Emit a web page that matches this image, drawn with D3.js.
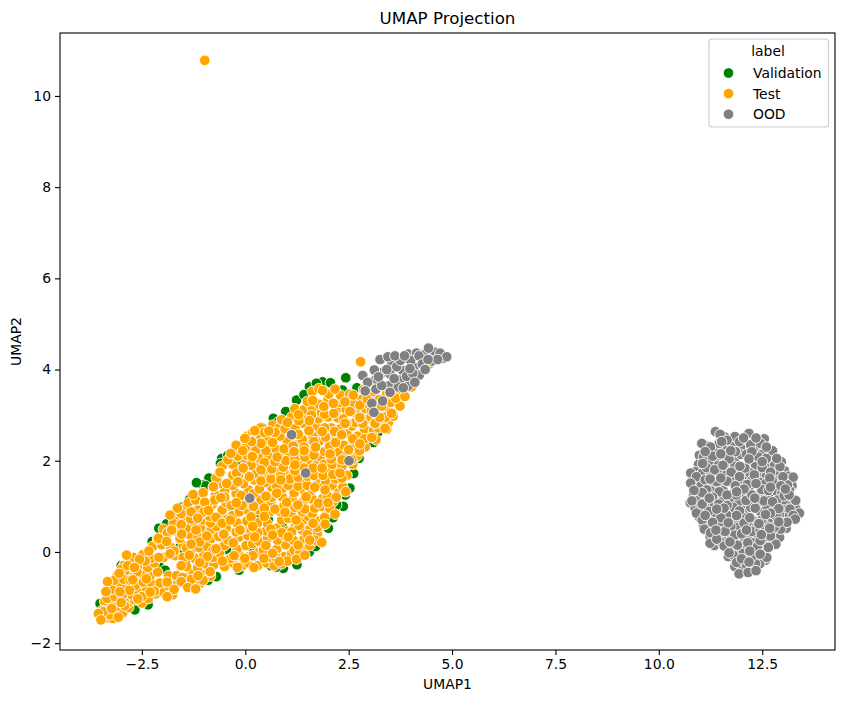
<!DOCTYPE html>
<html>
<head>
<meta charset="utf-8">
<script src="https://cdnjs.cloudflare.com/ajax/libs/d3/7.8.5/d3.min.js"></script>
<style>
  body { margin: 0; background: #fff; }
  text { font-family: 'DejaVu Sans', sans-serif; fill: #000; }
</style>
</head>
<body>
<svg id="plot"></svg>
<script>
// values, [UMAP1, UMAP2]
const validation = [
  [2.43,3.82],[1.87,3.73],[2.06,3.71],[2.35,3.55],[1.24,3.33],[0.98,3.08],[0.68,2.93],[0.8,2.85],
  [-0.57,2.05],[-0.6,1.94],[-0.06,1.99],[-0.17,1.97],[-0.88,1.62],[-1.02,1.47],[2.37,1.0],[2.21,1.03],
  [2.01,0.52],[2.53,1.4],[3.34,2.95],[3.37,2.85],[1.63,2.0],[0.4,0.85],[0.56,0.7],[-0.49,0.04],
  [0.18,0.04],[0.11,-0.21],[0.92,-0.36],[-0.69,-0.54],[-0.09,1.98],[-0.01,2.0],[-0.96,1.45],[-1.18,1.52],
  [-2.09,0.52],[-2.25,0.23],[-1.6,0.09],[-1.54,0],[-2.4,-0.1],[-2.08,-0.32],[-2.55,-0.58],[-2.67,-1.27],
  [-2.35,-1.16],[-1.82,-0.84],[-1.94,-0.4],[-0.7,-0.54],[-0.9,-0.62],[0.15,-0.21],[0.19,0.08],[-0.45,0.06],
  [-3.51,-1.13],[-3.38,-1.08],[0.3,0.74],[0.62,-0.3],[0.75,-0.33],[1.55,0.0],[1.7,0.12],[2.12,0.75],
  [2.42,1.25],[2.62,1.72],[2.75,2.05],[3.1,2.4],[3.2,2.62],[1.55,3.62],[1.72,3.7],[2.7,3.6],
  [2.9,3.4],[1.42,3.45],[0.4,2.72],[0.22,2.5],[-0.25,2.22],[-0.42,2.12],[-1.35,1.15],[-1.55,0.98],
  [-1.75,0.78],[-1.9,0.62],[-2.55,-0.35],[-3.0,-0.3],[-1.2,-0.72],[0.9,0.55],[1.2,1.45],[0.6,1.55],
  [-0.3,0.95],[-1.0,0.45],[1.8,2.6],[2.2,2.25],[0.9,2.1],[-1.45,-0.2],[-0.15,-0.4],[1.25,-0.28]
];

// packed middle of the test cloud, read row by row
const testDense = [
  [-3.42,-1.36],[-3.28,-1.28],[-3.14,-1.38],[-3.36,-1.22],[-2.96,-1.33],[-2.82,-1.22],
  [-3.4,-1.08],[-3.22,-1.12],[-3.05,-1.04],[-2.84,-1.12],[-2.68,-1.05],[-2.5,-1.12],[-2.34,-1.02],
  [-3.3,-0.92],[-3.12,-0.9],[-2.93,-0.86],[-2.74,-0.94],[-2.58,-0.9],[-2.38,-0.82],[-2.17,-0.92],[-1.98,-0.88],[-1.76,-0.94],
  [-3.24,-0.72],[-3.04,-0.66],[-2.86,-0.7],[-2.66,-0.74],[-2.47,-0.66],[-2.26,-0.7],[-2.06,-0.68],[-1.85,-0.74],[-1.66,-0.7],[-1.42,-0.67],[-1.26,-0.72],[-1.08,-0.68],
  [-3.1,-0.52],[-2.9,-0.48],[-2.7,-0.54],[-2.5,-0.47],[-2.3,-0.52],[-2.12,-0.44],[-1.86,-0.52],[-1.66,-0.52],[-1.42,-0.56],[-1.26,-0.46],[-1.03,-0.5],[-0.84,-0.53],
  [-2.94,-0.3],[-2.72,-0.24],[-2.52,-0.28],[-2.36,-0.34],[-2.2,-0.24],[-1.42,-0.32],[-1.15,-0.35],[-0.98,-0.26],[-0.76,-0.28],[-0.5,-0.32],[-0.3,-0.24],[-0.08,-0.3],[0.08,-0.24],[0.3,-0.3],[0.52,-0.24],[0.7,-0.3],[0.88,-0.26],
  [-2.7,-0.12],[-2.48,-0.06],[-2.28,-0.14],[-1.98,-0.12],[-1.7,-0.08],[-1.5,-0.12],[-1.22,-0.14],[-1.0,-0.06],[-0.78,-0.12],[-0.62,-0.02],[-0.35,-0.14],[-0.14,-0.08],[0.1,-0.1],[0.32,-0.02],[0.56,-0.12],[0.95,-0.1],[1.12,-0.04],
  [-2.24,0.12],[-2.02,0.16],[-1.8,0.1],[-1.5,0.14],[-1.32,0.04],[-1.12,0.1],[-0.92,0.12],[-0.78,0.04],[-0.5,0.14],[-0.2,0.06],[0.02,0.14],[0.18,0.18],[0.44,0.04],[0.76,0.06],[0.98,0.16],[1.18,0.04],[1.38,0.12],
  [-2.12,0.28],[-1.96,0.34],[-1.58,0.3],[-1.32,0.36],[-1.14,0.32],[-0.82,0.3],[-0.64,0.34],[-0.42,0.26],[-0.16,0.32],[0.06,0.36],[0.32,0.24],[0.54,0.3],[0.78,0.26],[0.94,0.36],[1.16,0.26],[1.42,0.28],[1.56,0.14],
  [-1.98,0.5],[-1.66,0.46],[-1.42,0.52],[-1.08,0.54],[-0.82,0.5],[-0.7,0.56],[-0.46,0.52],[-0.22,0.44],[0.02,0.52],[0.26,0.5],[0.5,0.46],[0.76,0.52],[1.0,0.46],[1.2,0.54],[1.38,0.48],[1.56,0.5],[1.74,0.4],
  [-1.72,0.68],[-1.46,0.74],[-1.24,0.66],[-1.02,0.7],[-0.84,0.64],[-0.58,0.8],[-0.42,0.72],[-0.2,0.64],[0.04,0.68],[0.3,0.64],[0.54,0.62],[0.88,0.7],[1.04,0.74],[1.4,0.7],[1.52,0.78],[1.8,0.68],
  [-1.5,0.94],[-1.14,0.92],[-0.86,0.78],[-0.56,0.92],[-0.3,0.8],[-0.14,0.88],[0.08,0.9],[0.34,0.92],[0.6,0.88],[0.82,0.9],[1.12,0.86],[1.38,0.88],[1.62,0.84],[1.96,0.9],[1.92,0.76],
  [-1.38,1.08],[-1.2,1.14],[-0.8,1.04],[-0.46,1.08],[-0.1,1.14],[0.08,1.06],[0.38,1.14],[0.62,1.08],[0.9,1.2],[1.14,1.14],[1.4,1.1],[1.62,1.16],[1.88,1.18],[2.12,1.1],
  [-1.02,1.3],[-0.72,1.26],[-0.5,1.34],[-0.22,1.28],[0.08,1.36],[0.2,1.28],[0.64,1.2],[0.64,1.42],[0.9,1.4],[1.18,1.3],[1.42,1.36],[1.58,1.34],[1.82,1.46],[2.1,1.46],[2.26,1.3],
  [-0.62,1.5],[-0.3,1.46],[-0.04,1.5],[0.22,1.58],[0.48,1.52],[0.74,1.56],[0.98,1.7],[1.18,1.52],[1.42,1.58],[1.74,1.6],[1.94,1.56],[2.18,1.6],[2.36,1.42],
  [-0.7,1.62],[-0.3,1.68],[0.24,1.72],[0.52,1.68],[0.72,1.72],[1.16,1.7],[1.34,1.76],[1.58,1.74],[1.78,1.74],[2.02,1.8],[2.2,1.84],[2.46,1.68],
  [-0.56,1.88],[-0.3,1.92],[-0.12,1.72],[0.02,1.96],[0.24,1.94],[0.6,1.92],[0.84,1.76],[1.08,1.92],[1.32,1.94],[1.52,1.92],[1.72,1.9],[1.98,1.96],[2.16,2.02],[2.42,1.96],[2.6,1.92],
  [-0.42,2.02],[-0.18,2.1],[0.04,2.12],[0.34,2.06],[0.56,2.1],[0.84,2.16],[1.04,2.08],[1.28,2.1],[1.56,2.14],[1.82,2.08],[1.92,2.2],[2.26,2.18],[2.46,2.12],[2.7,2.1],
  [-0.22,2.34],[0.02,2.3],[0.22,2.38],[0.46,2.34],[0.74,2.26],[1.02,2.42],[1.3,2.38],[1.56,2.36],[1.78,2.42],[2.04,2.32],[2.38,2.34],[2.62,2.3],[2.9,2.3],
  [0.04,2.54],[0.34,2.52],[0.52,2.46],[0.84,2.54],[1.14,2.62],[1.38,2.46],[1.64,2.52],[2.06,2.56],[2.2,2.52],[2.46,2.6],[2.72,2.54],[2.98,2.6],[3.16,2.46],
  [0.36,2.72],[0.66,2.78],[0.82,2.72],[1.2,2.7],[1.42,2.82],[1.74,2.76],[2.08,2.72],[2.3,2.7],[2.58,2.76],[2.88,2.7],[3.1,2.66],[3.32,2.76],
  [0.88,2.9],[1.12,2.96],[1.44,2.96],[1.76,2.92],[2.0,2.96],[2.24,2.94],[2.66,2.84],[2.96,2.92],[3.28,2.9],[3.46,2.84],
  [1.2,3.14],[1.42,3.12],[1.62,3.16],[1.84,3.06],[2.22,3.14],[2.44,3.12],[2.68,3.1],[2.9,3.14],[3.16,3.02],[3.42,3.18],[3.58,2.98],
  [1.5,3.3],[1.78,3.24],[2.0,3.34],[2.28,3.28],[2.52,3.26],[2.8,3.34],[3.06,3.36],[3.52,3.28],[3.74,3.2],
  [1.62,3.52],[1.78,3.58],[2.02,3.46],[2.3,3.44],[2.52,3.46],[2.86,3.56],[3.1,3.52],[3.42,3.46],[3.72,3.52],[4.02,3.62],
  // second pass over the spots that stayed open
  [-3.5,-1.42],[-3.46,-1.28],[-3.33,-1.44],[-3.2,-1.46],[-3.38,-1.32],[-3.27,-1.38],[-3.12,-1.2],[-2.92,-1.18],
  [-3.34,-1.02],[-3.15,-0.98],[-2.98,-0.96],[-3.22,-0.82],[-3.0,-0.78],[-2.8,-0.84],[-3.16,-0.62],[-2.94,-0.6],
  [-2.78,-0.62],[-3.0,-0.38],[-2.84,-0.3],[-2.62,-0.44],[-2.42,-0.2],[-2.56,-0.16],[-2.5,-0.98],[-2.2,-0.86],
  [-1.72,-0.82],[-1.52,-0.56],[-1.3,-0.6],[-1.02,-0.62],[-0.92,-0.1],[-1.1,0.22],[-1.42,0.08],[-1.72,0.02],
  [-1.88,0.42],[-1.74,0.62],[-1.55,0.84],[-1.32,0.72],[-1.08,0.82],[-0.92,1.0],[-0.74,1.14],[-0.5,1.2],
  [-0.34,1.02],[-0.08,1.02],[0.2,1.0],[0.46,0.96],[0.72,0.94],[0.94,1.02],[1.2,0.98],[1.44,0.94],
  [1.68,0.96],[1.86,1.0],[2.04,0.96],[0.3,0.42],[0.62,0.5],[0.88,0.42],[1.12,0.44],[1.3,0.58],
  [1.5,0.38],[1.68,0.26],[1.74,0.54],[0.5,0.14],[0.18,-0.08],[0.74,-0.12],[1.02,-0.2],[1.32,-0.02],
  [-0.1,1.24],[0.34,1.38],[0.5,1.22],[0.76,1.44],[1.04,1.46],[1.28,1.44],[1.5,1.46],[1.68,1.42],
  [1.98,1.24],[2.2,1.2],[0.38,1.56],[0.62,1.6],[0.86,1.66],[1.08,1.6],[1.28,1.64],[1.5,1.66],
  [1.66,1.68],[1.88,1.68],[2.12,1.7],[2.34,1.62],[0.42,1.78],[0.64,1.82],[0.92,1.86],[1.2,1.78],
  [1.42,1.84],[1.64,1.84],[1.9,1.92],[2.1,1.92],[2.34,1.88],[0.14,1.9],[0.46,1.96],[0.72,1.98],
  [0.98,2.0],[1.2,2.02],[1.44,2.08],[1.66,2.12],[2.08,2.04],[2.34,2.02],[2.58,2.02],[0.26,2.24],
  [0.5,2.22],[0.66,2.4],[0.94,2.26],[1.16,2.32],[1.42,2.3],[1.66,2.42],[1.94,2.52],[2.18,2.4],
  [2.5,2.24],[2.76,2.22],[0.46,2.62],[0.72,2.62],[0.96,2.7],[1.28,2.58],[1.54,2.66],[1.92,2.72],
  [2.16,2.64],[2.6,2.48],[2.88,2.48],[1.02,2.84],[1.3,2.88],[1.6,3.0],[1.92,3.02],[2.14,3.04],
  [2.38,2.92],[2.84,2.82],[3.04,2.96],[3.22,2.72],[2.62,3.24],[2.98,3.24],[3.24,3.34],[3.4,2.96]
];

const test = [
  [2.79,4.17],[-0.98,10.78],
  [-2.87,-0.07],[-2.33,0.02],[-1.64,0.96],[-1.82,0.81],[-1.26,1.26],[-0.77,1.42],[-0.61,1.74],[-0.35,2.16],
  [0.18,2.62],[0.15,2.44],[-0.06,2.22],[0.18,2.09],[-0.21,1.73],[0.08,1.67],[-0.45,1.5],[-0.18,1.54],
  [-0.59,1.19],[-0.98,1.09],[-1.31,0.88],[-1.0,0.88],[-0.71,0.76],[-1.15,0.74],[-1.55,0.6],[-1.78,0.48],
  [-1.54,0.39],[-1.19,0.48],[-0.93,0.35],[-0.56,0.63],[-0.1,0.48],[0.14,0.77],[0.18,0.56],[-0.22,1.08],
  [-0.53,0.39],[-0.36,0.7],[-0.29,0.2],[-0.71,0.07],[-1.31,0.17],[-2.1,0.3],[-1.9,0.23],[-2.09,-0.12],
  [-1.82,-0.04],[-1.35,-0.07],[-1.1,-0.23],[-0.55,-0.2],[-0.27,-0.08],[-0.19,-0.34],[-1.55,-0.3],[-0.84,-0.44],
  [-1.14,-0.52],[-1.55,-0.65],[-1.39,-0.78],[-1.2,-0.81],[-1.89,-0.66],[-1.89,-0.98],[-2.3,-0.88],[-2.39,-0.59],
  [-2.6,-1.03],[-3.0,-1.11],[-3.03,-0.87],[-2.72,-0.61],[-3.05,-0.47],[-2.68,-0.34],[-3.33,-0.65],[-3.37,-0.87],
  [-3.43,-1.31],[-3.23,-1.24],[-3.55,-1.35],[-3.07,-1.43],[-3.49,-1.49],
  [1.87,3.54],[2.17,3.57],[1.63,3.32],[1.9,3.19],[2.13,3.26],[2.41,3.29],[1.29,3.01],[1.55,2.88],
  [1.86,2.64],[2.33,2.57],[2.45,2.82],[2.76,2.93],[2.56,3.06],[3.13,2.82],[3.54,3.04],[3.42,2.69],
  [3.06,2.51],[2.77,2.37],[2.05,2.15],[1.7,2.3],[1.42,2.22],[1.18,2.2],[0.77,2.08],[0.38,2.38],
  [0.15,2.42],[0.57,2.65],[-0.01,2.49],[0.23,2.66],[0.17,2.09],[-0.05,1.84],[0.38,1.8],[0.1,1.65],
  [-0.61,1.75],[-0.77,1.43],[0.86,1.58],[1.2,1.91],[1.86,1.84],[2.29,1.73],
  [1.93,1.36],[2.43,1.32],[1.47,1.21],[0.76,1.29],[1.0,1.09],[1.27,1.03],[1.77,1.07],[2.0,1.08],
  [2.17,0.83],[0.96,0.87],[0.46,0.78],[-0.89,0.91],[-0.13,0.48],[-0.52,0.39],
  [0.23,0.33],[0.66,0.37],[1.04,0.33],[1.23,0.7],[1.64,0.63],[1.93,0.61],[1.56,0.26],[1.28,0.15],
  [1.85,0.21],[0.82,-0.21],[0.66,-0.03],[0.45,-0.14],[0.21,-0.34],[-0.85,-0.43],[1.24,-0.16],
  [1.44,-0.07],[-0.01,-0.14],
  [3.64,3.37],[3.86,3.41],[3.38,2.71],[3.14,2.82],[2.77,3.22],[2.61,3.44],[2.53,3.08],[2.77,2.95],[2.41,2.82],
  [3.05,3.1],[3.3,3.2],[3.5,3.5],[3.9,3.75],[4.2,3.95],[4.45,4.12],[3.2,3.7],[2.95,3.35],[3.25,2.95]
];

// packed middle of the far cluster, read row by row
const oodDense = [
  [11.6,2.52],[11.78,2.44],[12.02,2.46],[12.32,2.42],
  [11.18,2.32],[11.36,2.26],[11.58,2.3],[11.8,2.32],[11.98,2.28],[12.34,2.3],[12.54,2.24],
  [10.98,2.12],[11.18,2.16],[11.42,2.08],[11.6,2.12],[11.84,2.06],[11.98,2.14],[12.24,2.06],[12.5,2.14],[12.7,2.08],
  [10.96,1.92],[11.22,1.96],[11.44,1.9],[11.62,1.96],[11.84,1.88],[12.2,1.94],[12.34,1.88],[12.62,1.94],[12.8,1.9],[12.96,1.98],
  [10.88,1.76],[11.04,1.72],[11.26,1.7],[11.48,1.74],[11.64,1.7],[11.86,1.72],[12.08,1.66],[12.2,1.74],[12.44,1.7],[12.6,1.66],[12.86,1.72],[13.04,1.78],[13.14,1.66],
  [10.9,1.5],[11.02,1.46],[11.28,1.48],[11.54,1.48],[11.76,1.56],[12.0,1.5],[12.24,1.56],[12.46,1.52],[12.58,1.5],[12.86,1.56],[13.02,1.52],[13.22,1.46],
  [10.84,1.26],[11.0,1.2],[11.26,1.34],[11.42,1.2],[11.56,1.34],[11.78,1.26],[12.02,1.3],[12.18,1.36],[12.4,1.24],[12.58,1.28],[12.82,1.34],[12.98,1.3],[13.16,1.36],
  [10.76,1.08],[10.98,1.0],[11.16,1.1],[11.34,1.06],[11.54,1.12],[11.76,1.1],[11.94,1.08],[12.22,1.06],[12.4,1.1],[12.66,1.18],[12.88,1.14],[13.08,1.06],[13.2,1.0],
  [10.88,0.96],[11.1,0.88],[11.34,0.86],[11.5,0.94],[11.72,0.9],[12.08,0.92],[12.22,0.98],[12.46,0.88],[12.62,0.98],[12.8,0.9],[13.02,0.92],[13.32,0.94],
  [10.98,0.76],[11.2,0.7],[11.42,0.64],[11.6,0.68],[11.84,0.72],[12.02,0.78],[12.3,0.68],[12.58,0.74],[12.74,0.66],[13.0,0.76],[13.16,0.8],
  [11.08,0.58],[11.26,0.54],[11.48,0.56],[11.86,0.54],[12.16,0.6],[12.36,0.54],[12.6,0.56],[12.74,0.48],[12.98,0.64],[13.08,0.52],
  [11.24,0.34],[11.46,0.32],[11.64,0.28],[11.76,0.36],[12.06,0.32],[12.28,0.34],[12.54,0.42],[12.8,0.38],[12.92,0.32],
  [11.34,0.14],[11.52,0.2],[11.76,0.16],[12.02,0.12],[12.3,0.2],[12.56,0.16],[12.74,0.24],
  [11.68,-0.1],[11.96,-0.02],[12.14,-0.08],[12.36,-0.02],[12.54,-0.04],[12.58,-0.18],
  [11.84,-0.32],[12.02,-0.36],[12.26,-0.32],[12.44,-0.26]
];

const ood = [
  [1.12,2.57],[2.51,2.0],[1.46,1.73],[0.11,1.18],
  // top of the main cloud
  [3.26,4.22],[3.54,4.15],[3.94,4.34],[4.35,4.34],[4.6,4.38],[4.79,4.25],[4.52,4.19],[4.08,4.06],
  [3.81,3.98],[3.32,3.94],[3.12,3.99],[2.84,3.87],[3.16,3.79],[2.96,3.72],[3.46,3.64],[3.74,3.77],
  [4.21,3.88],[3.94,3.64],[3.16,3.57],[2.9,3.53],[3.32,3.31],[3.06,3.26],[3.11,3.06],[3.66,4.06],
  [4.14,4.36],[4.71,4.36],[4.87,4.28],[4.43,4.47],[3.5,3.9],[3.9,3.85],[3.7,3.62],[3.42,4.0],
  [3.75,4.2],[4.0,4.2],[4.2,4.3],[4.65,4.22],[3.6,3.8],[4.05,3.92],[3.3,3.65],[3.45,4.28],
  [3.62,4.3],[3.85,4.3],[4.28,4.12],[4.42,4.22],[3.98,4.02],[3.22,3.84],[3.5,3.5],[3.82,3.6],
  [4.1,3.72],[4.35,4.0],
  // separate cluster on the right
  [11.37,2.64],[11.48,2.58],[11.84,2.53],[12.18,2.6],[12.55,2.48],[11.04,2.38],[11.46,2.38],[12.22,2.35],
  [12.46,2.38],[12.75,2.22],[11.08,2.09],[11.7,2.04],[12.12,2.14],[12.41,2.08],[12.08,1.84],[12.93,1.87],
  [10.77,1.73],[10.91,1.65],[11.12,1.58],[11.4,1.54],[12.31,1.69],[13.25,1.64],[13.11,1.47],[12.14,1.48],
  [12.49,1.37],[11.16,1.36],[10.77,1.51],[11.46,1.32],[11.87,1.25],[11.3,1.2],[10.91,1.12],[13.03,1.23],
  [13.31,1.13],[12.54,1.12],[12.11,1.13],[12.33,0.96],[11.8,0.98],[13.17,0.94],[11.2,0.89],[10.91,0.85],
  [11.66,0.8],[12.85,0.78],[13.4,0.85],[12.49,0.7],[11.05,0.7],[12.06,0.63],[11.74,0.56],[12.95,0.5],
  [11.46,0.45],[11.84,0.37],[12.61,0.34],[11.24,0.19],[11.58,0.13],[12.38,0.12],[12.83,0.17],[12.04,-0.03],
  [12.61,-0.12],[11.8,-0.07],[11.88,-0.23],[12.34,-0.26],[12.12,-0.28],[11.94,-0.48],[12.16,-0.45],[12.35,-0.41],
  [11.65,2.45],[11.95,2.42],[12.05,2.5],[12.35,2.5],[12.6,2.3],[11.25,2.3],[11.3,2.1],[11.5,2.15],
  [11.85,2.2],[12.25,2.2],[12.6,2.05],[12.85,2.05],[11.15,1.85],[11.35,1.8],[11.55,1.9],[11.75,1.75],
  [11.95,1.65],[12.5,1.85],[12.7,1.75],[12.75,1.55],[13.0,1.65],[12.95,1.45],[12.65,1.35],[12.35,1.5],
  [11.65,1.55],[11.85,1.45],[11.65,1.25],[11.05,1.3],[10.85,1.35],[10.8,1.12],[11.05,1.05],[11.45,1.05],
  [11.65,1.02],[11.95,0.9],[12.25,1.25],[12.75,1.1],[12.9,0.95],[13.15,1.25],[13.25,0.8],[13.3,0.72],
  [12.7,0.85],[12.2,0.75],[11.5,0.75],[11.3,0.65],[11.1,0.5],[11.25,0.42],[11.6,0.45],[12.0,0.4],
  [12.25,0.45],[12.45,0.48],[12.8,0.55],[13.1,0.65],[12.7,0.35],[12.45,0.25],[12.15,0.2],[11.9,0.15],
  [11.4,0.28],[11.7,-0.02],[12.0,-0.15],[12.25,-0.1],[12.45,-0.05],[12.65,0.1],[12.2,0.02],
  [11.52,2.42],[11.12,2.2],[11.74,2.22],[12.5,1.98],[12.18,2.04],[11.06,1.94],[11.5,1.62],[11.96,1.88],
  [12.68,1.62],[11.24,1.6],[12.06,1.38],[11.22,1.18],[12.7,1.42],[12.32,1.18],[11.88,1.32],[11.58,0.96],
  [13.06,1.38],[11.4,0.94],[12.58,0.82],[11.88,0.8],[12.42,0.62],[11.12,0.8],[11.68,0.64],[12.9,0.66],
  [12.12,0.48],[11.38,0.48],[12.68,0.52],[11.72,0.22],[12.48,0.38],[12.18,-0.22]
];

const xTicks = [-2.5, 0, 2.5, 5, 7.5, 10, 12.5];
const yTicks = [-2, 0, 2, 4, 6, 8, 10];
const legendLabels = ['Validation', 'Test', 'OOD'];
const colors = ['green', 'orange', 'gray'];

const width = 844;
const height = 701;
const box = { left: 60, right: 835, top: 33, bottom: 650 };

const svg = d3.select('#plot').attr('width', width).attr('height', height);

const x = d3.scaleLinear().domain([-4.48, 14.26]).range([box.left, box.right]);
const y = d3.scaleLinear().domain([-2.15, 11.38]).range([box.bottom, box.top]);

// points, one group per label so the later groups lie on top
[validation, testDense.concat(test), oodDense.concat(ood)].forEach((points, i) => {
  svg.append('g')
    .selectAll('circle')
    .data(points)
    .enter()
    .append('circle')
    .attr('cx', d => x(d[0]))
    .attr('cy', d => y(d[1]))
    .attr('r', 5.3)
    .attr('fill', colors[i])
    .attr('stroke', '#fff')
    .attr('stroke-width', 0.9);
});

// axes
const xAxis = svg.append('g')
  .attr('transform', `translate(0,${box.bottom})`)
  .call(d3.axisBottom(x).tickValues(xTicks).tickFormat(d3.format('.1f')).tickSize(5).tickPadding(4));
const yAxis = svg.append('g')
  .attr('transform', `translate(${box.left},0)`)
  .call(d3.axisLeft(y).tickValues(yTicks).tickFormat(d3.format('d')).tickSize(5).tickPadding(4));

[xAxis, yAxis].forEach(a => {
  a.select('.domain').remove();
  a.selectAll('line').attr('stroke', '#000').attr('stroke-width', 1.1);
  a.selectAll('text').style('font-size', '13.9px').style('font-family', "'DejaVu Sans', sans-serif");
});

// frame
svg.append('rect')
  .attr('x', box.left)
  .attr('y', box.top)
  .attr('width', box.right - box.left)
  .attr('height', box.bottom - box.top)
  .attr('fill', 'none')
  .attr('stroke', '#000')
  .attr('stroke-width', 1.1);

// titles
svg.append('text')
  .text('UMAP Projection')
  .attr('x', (box.left + box.right) / 2)
  .attr('y', 24)
  .attr('text-anchor', 'middle')
  .style('font-size', '16.7px');

svg.append('text')
  .text('UMAP1')
  .attr('x', (box.left + box.right) / 2)
  .attr('y', 689)
  .attr('text-anchor', 'middle')
  .style('font-size', '13.9px');

svg.append('text')
  .text('UMAP2')
  .attr('transform', `translate(21,${(box.top + box.bottom) / 2}) rotate(-90)`)
  .attr('text-anchor', 'middle')
  .style('font-size', '13.9px');

// legend
const legend = svg.append('g').attr('transform', 'translate(709,39)');

legend.append('rect')
  .attr('width', 119.5)
  .attr('height', 88)
  .attr('rx', 3)
  .attr('fill', '#fff')
  .attr('fill-opacity', 0.8)
  .attr('stroke', '#ccc')
  .attr('stroke-width', 1.1);

legend.append('text')
  .text('label')
  .attr('x', 59)
  .attr('y', 17)
  .attr('text-anchor', 'middle')
  .style('font-size', '13.9px');

legendLabels.forEach((label, i) => {
  legend.append('circle')
    .attr('cx', 19.5)
    .attr('cy', 34 + i * 20.6)
    .attr('r', 5.3)
    .attr('fill', colors[i])
    .attr('stroke', '#fff')
    .attr('stroke-width', 0.9);
  legend.append('text')
    .text(label)
    .attr('x', 44)
    .attr('y', 39 + i * 20.6)
    .style('font-size', '13.9px');
});
</script>
</body>
</html>
